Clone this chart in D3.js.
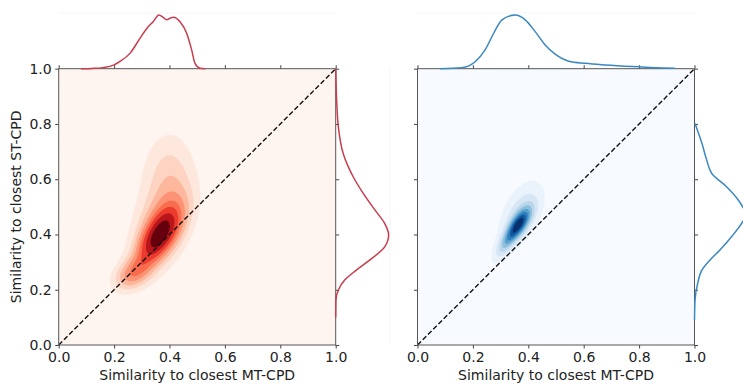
<!DOCTYPE html>
<html>
<head>
<meta charset="utf-8">
<script src="https://cdn.jsdelivr.net/npm/d3@7"></script>
<style>
  body { margin: 0; background: #fff; }
  svg { display: block; font-family: "DejaVu Sans", sans-serif; }
</style>
</head>
<body>
<svg id="chart" width="743" height="385"></svg>
<script>
const ticks = [0, 0.2, 0.4, 0.6, 0.8, 1.0]
const xLabel = 'Similarity to closest MT-CPD'
const yLabel = 'Similarity to closest ST-CPD'

const redMuX = [0.36, 0.385, 0.395, 0.27, 0.36]
const redMuY = [0.39, 0.45, 0.63, 0.26, 0.45]
const redSdX = [0.05, 0.06, 0.06, 0.045, 0.09]
const redSdY = [0.065, 0.09, 0.10, 0.04, 0.16]
const redRho = [0.6, 0.4, 0.05, 0.4, 0.3]
const redWeight = [0.33, 0.25, 0.14, 0.1, 0.18]

const blueMuX = [0.365, 0.375, 0.32, 0.45]
const blueMuY = [0.435, 0.48, 0.37, 0.48]
const blueSdX = [0.03, 0.042, 0.025, 0.2]
const blueSdY = [0.04, 0.06, 0.035, 0.2]
const blueRho = [0.7, 0.5, 0.7, 0.4]
const blueWeight = [0.5, 0.3, 0.12, 0.08]

// marginal KDE curves (relative density, peak = 1)
const redTopX = [0.08, 0.12, 0.16, 0.20, 0.22, 0.258, 0.294, 0.318, 0.341, 0.362, 0.376, 0.39, 0.402, 0.414, 0.438, 0.462, 0.48, 0.492, 0.51, 0.53]
const redTopD = [0, 0.005, 0.02, 0.07, 0.13, 0.29, 0.57, 0.75, 0.875, 1.0, 0.96, 0.91, 0.94, 0.96, 0.875, 0.66, 0.35, 0.10, 0.01, 0]
const redSideY = [0.10, 0.163, 0.199, 0.235, 0.271, 0.307, 0.355, 0.398, 0.44, 0.489, 0.549, 0.609, 0.694, 0.79, 0.876, 1.0]
const redSideD = [0, 0.005, 0.05, 0.17, 0.39, 0.64, 0.925, 1.0, 0.925, 0.74, 0.52, 0.33, 0.14, 0.05, 0.02, 0.003]

const blueTopX = [0.082, 0.16, 0.208, 0.244, 0.275, 0.305, 0.353, 0.389, 0.425, 0.461, 0.497, 0.546, 0.606, 0.678, 0.775, 0.858, 0.93]
const blueTopD = [0, 0.02, 0.13, 0.35, 0.66, 0.91, 1.0, 0.91, 0.69, 0.44, 0.27, 0.14, 0.10, 0.07, 0.04, 0.02, 0.01]
const blueSideY = [0.09, 0.163, 0.223, 0.271, 0.307, 0.344, 0.392, 0.44, 0.47, 0.50, 0.524, 0.572, 0.62, 0.67, 0.73, 0.802]
const blueSideD = [0, 0.01, 0.06, 0.14, 0.29, 0.48, 0.70, 0.89, 0.97, 0.91, 0.83, 0.61, 0.33, 0.23, 0.14, 0.01]

const svg = d3.select('#chart')
const plotW = 277
const plotTop = 68.7
const plotBottom = 345
const margH = 55.7
const margW = 54
const gridN = 200
const fmt = d3.format('.1f')

function density(c, px, py) {
  let s = 0
  for (let k = 0; k < c.muX.length; k++) {
    const dx = (px - c.muX[k]) / c.sdX[k]
    const dy = (py - c.muY[k]) / c.sdY[k]
    const r = c.rho[k]
    const q = (dx * dx - 2 * r * dx * dy + dy * dy) / (1 - r * r)
    s += c.weight[k] * Math.exp(-q / 2) / (2 * Math.PI * c.sdX[k] * c.sdY[k] * Math.sqrt(1 - r * r))
  }
  return s
}

// same iso-proportion levels seaborn uses (thresh = 0, 10 levels)
function quantileLevels(values, n) {
  const sorted = Float64Array.from(values).sort().reverse()
  const total = d3.sum(sorted)
  const cum = []
  let acc = 0
  for (const v of sorted) { acc += v; cum.push(acc / total) }
  return d3.range(n).map(i => {
    const idx = Math.min(d3.bisectLeft(cum, 1 - i / (n - 1)), sorted.length - 1)
    return sorted[idx]
  })
}

function drawPanel(id, left, comps, interp, lineColor, topX, topD, sideY, sideD, showYLabels) {
  const x = d3.scaleLinear().domain([0, 1]).range([left, left + plotW])
  const y = d3.scaleLinear().domain([0, 1]).range([plotBottom, plotTop])
  const g = svg.append('g')

  g.append('clipPath').attr('id', 'clip-' + id)
    .append('rect')
    .attr('x', x(0)).attr('y', y(1))
    .attr('width', plotW).attr('height', plotBottom - plotTop)

  const values = new Float64Array(gridN * gridN)
  for (let j = 0; j < gridN; j++) {
    for (let i = 0; i < gridN; i++) {
      values[j * gridN + i] = density(comps, (i + 0.5) / gridN, (j + 0.5) / gridN)
    }
  }
  const levels = quantileLevels(values, 10)
  // band colour from its mid value, normalised over the band mids (like contourf)
  const mids = d3.range(levels.length - 1).map(i => (levels[i] + levels[i + 1]) / 2)
  const tone = d3.scaleLinear().domain([mids[0], mids[mids.length - 1]]).range([0, 1])
  const bandColor = i => interp(tone(mids[i]))

  const kde = g.append('g').attr('clip-path', `url(#clip-${id})`)
  kde.append('rect')
    .attr('x', x(0)).attr('y', y(1))
    .attr('width', plotW).attr('height', plotBottom - plotTop)
    .attr('fill', bandColor(0))

  const proj = d3.geoTransform({
    point(px, py) { this.stream.point(x(px / gridN), y(py / gridN)) }
  })
  const path = d3.geoPath(proj)
  const contours = d3.contours().size([gridN, gridN]).thresholds(levels.slice(1, levels.length - 1))(values)
  kde.selectAll('path')
    .data(contours)
    .join('path')
    .attr('d', path)
    .attr('fill', (d, i) => bandColor(i + 1))

  // diagonal
  g.append('line')
    .attr('x1', x(0)).attr('y1', y(0))
    .attr('x2', x(1)).attr('y2', y(1))
    .attr('stroke', '#111')
    .attr('stroke-width', 1.4)
    .attr('stroke-dasharray', '5,2.4')

  // faint marginal frames
  g.append('line')
    .attr('x1', x(0)).attr('x2', x(1))
    .attr('y1', plotTop - margH).attr('y2', plotTop - margH)
    .attr('stroke', '#f6f6f6')
  g.append('line')
    .attr('x1', x(1) + margW).attr('x2', x(1) + margW)
    .attr('y1', plotTop).attr('y2', plotBottom)
    .attr('stroke', '#f6f6f6')

  // axes
  const axes = [
    [d3.axisBottom(x).tickFormat(fmt), `translate(0,${plotBottom})`],
    [d3.axisTop(x).tickFormat(''), `translate(0,${plotTop})`],
    [d3.axisLeft(y).tickFormat(showYLabels ? fmt : ''), `translate(${x(0)},0)`],
    [d3.axisRight(y).tickFormat(''), `translate(${x(1)},0)`]
  ]
  axes.forEach(([ax, tr]) => {
    const a = g.append('g')
      .attr('transform', tr)
      .call(ax.tickValues(ticks).tickSize(3.5).tickPadding(3.5))
    a.select('.domain').remove()
    a.selectAll('line').attr('stroke', '#444')
    a.selectAll('text').attr('fill', '#222').attr('font-size', 14)
      .attr('font-family', '"DejaVu Sans", sans-serif')
  })
  g.append('rect')
    .attr('x', x(0)).attr('y', y(1))
    .attr('width', plotW).attr('height', plotBottom - plotTop)
    .attr('fill', 'none')
    .attr('stroke', '#555')
    .attr('stroke-width', 1)

  // marginals
  const yTop = d3.scaleLinear().domain([0, 1.037]).range([plotTop, plotTop - margH])
  const xSide = d3.scaleLinear().domain([0, 1.02]).range([x(1), x(1) + margW])
  g.append('path')
    .attr('d', d3.line().curve(d3.curveMonotoneX)
      .x((d, i) => x(topX[i])).y(d => yTop(d))(topD))
    .attr('fill', 'none').attr('stroke', lineColor).attr('stroke-width', 1.5)
  g.append('path')
    .attr('d', d3.line().curve(d3.curveMonotoneY)
      .x(d => xSide(d)).y((d, i) => y(sideY[i]))(sideD))
    .attr('fill', 'none').attr('stroke', lineColor).attr('stroke-width', 1.5)

  g.append('text')
    .attr('x', x(0.5)).attr('y', 380)
    .attr('text-anchor', 'middle')
    .attr('font-size', 14).attr('fill', '#222')
    .text(xLabel)

  if (showYLabels) {
    g.append('text')
      .attr('transform', `translate(20.5,${(plotTop + plotBottom) / 2}) rotate(-90)`)
      .attr('text-anchor', 'middle')
      .attr('font-size', 14).attr('fill', '#222')
      .text(yLabel)
  }
}

drawPanel('red', 58.7, { muX: redMuX, muY: redMuY, sdX: redSdX, sdY: redSdY, rho: redRho, weight: redWeight },
  d3.interpolateReds, '#c93c4d', redTopX, redTopD, redSideY, redSideD, true)
drawPanel('blue', 417.5, { muX: blueMuX, muY: blueMuY, sdX: blueSdX, sdY: blueSdY, rho: blueRho, weight: blueWeight },
  d3.interpolateBlues, '#3a88c2', blueTopX, blueTopD, blueSideY, blueSideD, false)
</script>
</body>
</html>
